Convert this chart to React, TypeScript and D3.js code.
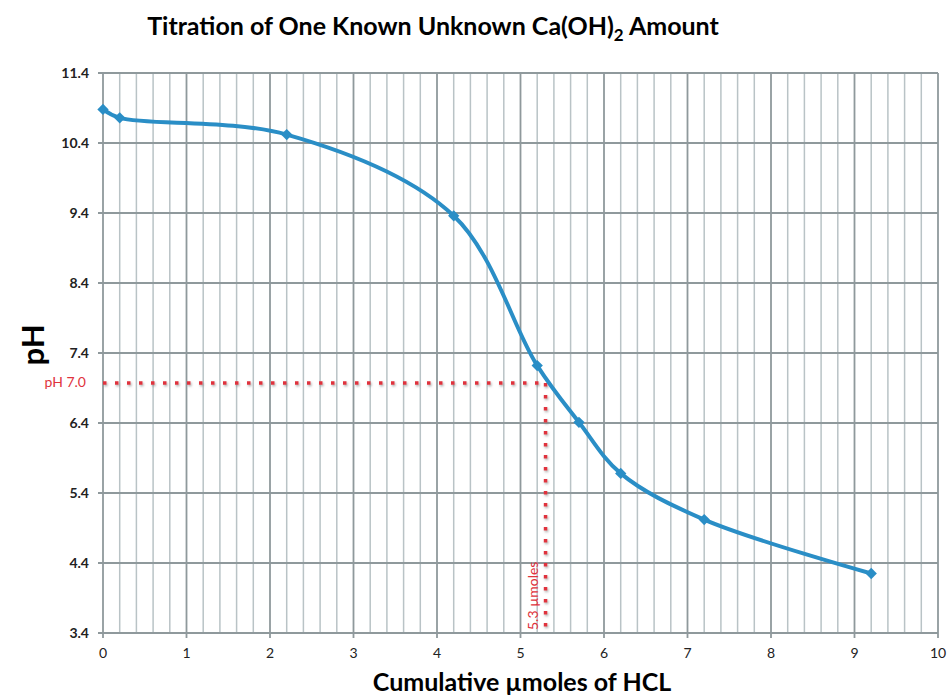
import * as d3 from "d3";

// values
const volumes = [0, 0.2, 2.2, 4.2, 5.2, 5.7, 6.2, 7.2, 9.2];
const phValues = [10.88, 10.76, 10.52, 9.36, 7.22, 6.41, 5.68, 5.02, 4.25];
const xTicks = [0, 1, 2, 3, 4, 5, 6, 7, 8, 9, 10];
const yTicks = [3.4, 4.4, 5.4, 6.4, 7.4, 8.4, 9.4, 10.4, 11.4];
const endpointPh = 7.0;
const endpointVol = 5.3;

const W = 949;
const H = 695;
const margin = { left: 103, right: 11, top: 73, bottom: 62 };

const font = "Lato, 'Open Sans', sans-serif";

export default function App() {
  const x = d3.scaleLinear().domain([0, 10]).range([margin.left, W - margin.right]);
  const y = d3.scaleLinear().domain([3.4, 11.4]).range([H - margin.bottom, margin.top]);

  const minor = d3.range(0, 10.001, 0.2).map((v) => +v.toFixed(1)).filter((v) => !xTicks.includes(v));

  const pts: [number, number][] = volumes.map((v, i) => [v, phValues[i]]);
  const line = d3
    .line<[number, number]>()
    .x((d) => x(d[0]))
    .y((d) => y(d[1]))
    .curve(d3.curveCatmullRom.alpha(0.5));
  const diamond = d3.symbol(d3.symbolSquare, 64)()!;

  const red = "#e0333c";

  return (
    <div style={{ position: "absolute", left: 0, top: 0 }}>
      <svg width={W} height={H} style={{ display: "block", background: "#fff" }}>
        <defs>
          <filter id="sh" x="-50%" y="-50%" width="200%" height="200%">
            <feDropShadow dx="1" dy="1.5" stdDeviation="1" floodColor="#777" floodOpacity="0.6" />
          </filter>
        </defs>

        {/* minor vertical grid */}
        {minor.map((v) => (
          <line key={"m" + v} x1={x(v)} x2={x(v)} y1={y(11.4)} y2={y(3.4)} stroke="#b9c3c6" strokeWidth={1.5} />
        ))}
        {/* major vertical grid */}
        {xTicks.map((v) => (
          <line key={"M" + v} x1={x(v)} x2={x(v)} y1={y(11.4)} y2={y(3.4) + 5} stroke="#8f999c" strokeWidth={1.8} />
        ))}
        {/* horizontal grid */}
        {yTicks.map((v) => (
          <line key={"h" + v} x1={x(0) - 5} x2={x(10)} y1={y(v)} y2={y(v)} stroke="#8f999c" strokeWidth={1.8} />
        ))}

        {/* y tick labels */}
        {yTicks.map((v) => (
          <text key={"yl" + v} x={x(0) - 14} y={y(v)} dy="0.35em" textAnchor="end" fontFamily={font} fontWeight="bold" fontSize={14} fill="#222">
            {v.toFixed(1)}
          </text>
        ))}
        {/* x tick labels */}
        {xTicks.map((v) => (
          <text key={"xl" + v} x={x(v)} y={y(3.4) + 25} textAnchor="middle" fontFamily={font} fontSize={14} fill="#222">
            {v}
          </text>
        ))}

        {/* endpoint guides */}
        <g filter="url(#sh)">
          <line x1={x(0)} x2={x(endpointVol)} y1={y(endpointPh) + 2} y2={y(endpointPh) + 2} stroke={red} strokeWidth={3.5} strokeDasharray="3.5 8.5" />
          <line x1={x(endpointVol)} x2={x(endpointVol)} y1={y(endpointPh) + 2} y2={y(3.4)} stroke={red} strokeWidth={3.5} strokeDasharray="3.5 8.5" />
        </g>
        <text x={x(0) - 17} y={y(endpointPh) + 1} dy="0.35em" textAnchor="end" fontFamily={font} fontSize={14} fill={red}>
          pH 7.0
        </text>
        <text
          transform={`translate(${x(endpointVol) - 8},${y(3.4) - 3}) rotate(-90)`}
          fontFamily={font}
          fontSize={14}
          fill={red}
        >
          {"5.3 \u00b5moles"}
        </text>

        {/* titration curve */}
        <path d={line(pts)!} fill="none" stroke="#2a8ec6" strokeWidth={4} />
        {pts.map((d, i) => (
          <path key={"p" + i} d={diamond} transform={`translate(${x(d[0])},${y(d[1])}) rotate(45)`} fill="#2a8ec6" />
        ))}

        {/* titles */}
        <text x={433} y={35} textAnchor="middle" fontFamily={font} fontWeight="bold" fontSize={25} fill="#000">
          Titration of One Known Unknown Ca(OH)
          <tspan dy={6} fontSize={17}>2</tspan>
          <tspan dy={-6}> Amount</tspan>
        </text>
        <text transform={`translate(44,345) rotate(-90)`} textAnchor="middle" fontFamily={font} fontWeight="bold" fontSize={31} fill="#000">
          pH
        </text>
        <text x={522} y={691} textAnchor="middle" fontFamily={font} fontWeight="bold" fontSize={25} fill="#000">
          {"Cumulative \u00b5moles of HCL"}
        </text>
      </svg>
    </div>
  );
}
